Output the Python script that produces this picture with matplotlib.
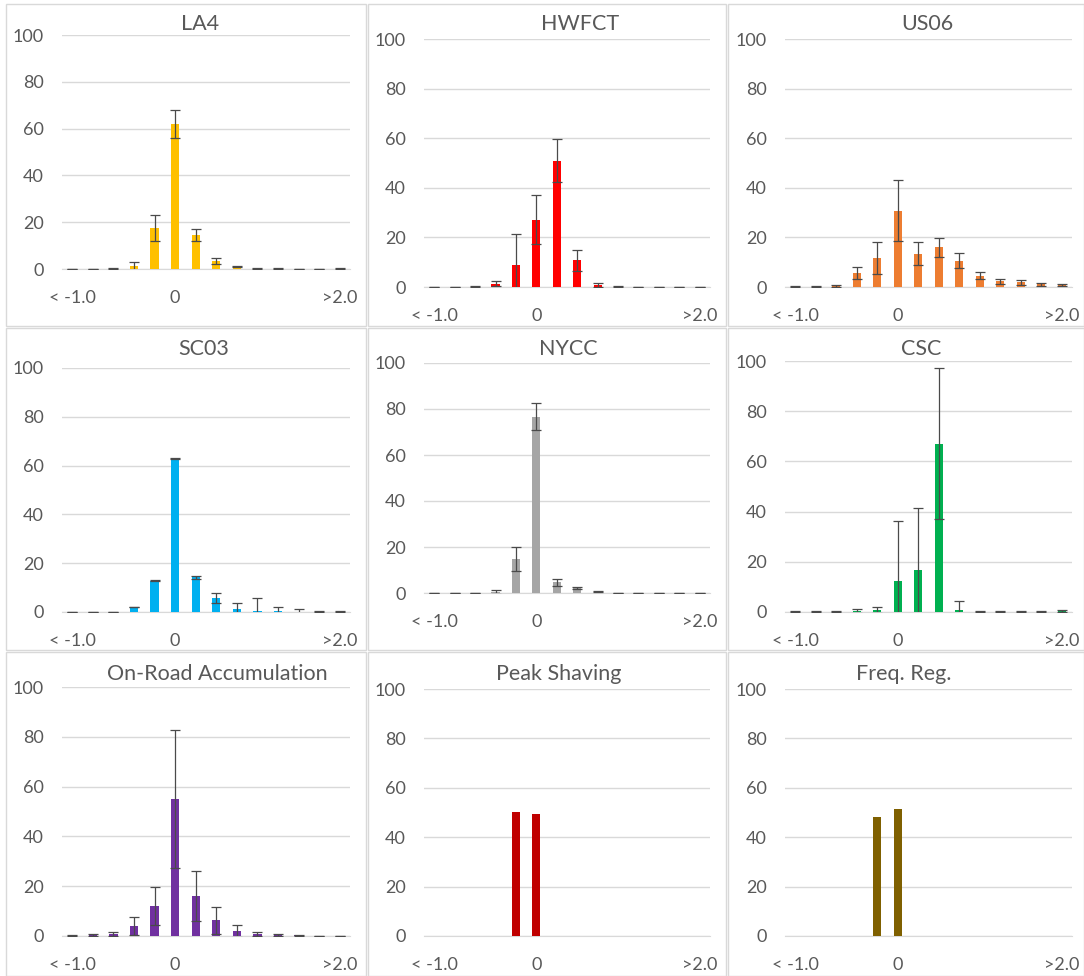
import numpy as np
import matplotlib.pyplot as plt
from matplotlib.patches import Rectangle

plt.rcParams['font.family'] = ['Lato', 'DejaVu Sans']

# categorias (14 classes), so 3 rotulos visiveis
cats = list(range(14))
tick_pos = [0, 5, 13]
tick_lab = ['< -1.0', '0', '>2.0']

# dados de entrada (%)
la4 = [0.1, 0.1, 0.2, 1.1, 17.5, 62.0, 14.5, 3.3, 1.0, 0.3, 0.2, 0.1, 0.1, 0.2]
la4_err = [0.1, 0.1, 0.1, 1.9, 5.5, 6.0, 2.4, 1.2, 0.3, 0.1, 0.1, 0.1, 0.1, 0.1]

hwfct = [0.1, 0.1, 0.3, 1.3, 8.7, 27.1, 51.0, 10.7, 0.9, 0.2, 0.1, 0.1, 0.1, 0.1]
hwfct_err = [0.1, 0.1, 0.1, 1.0, 12.8, 9.8, 8.5, 4.2, 0.9, 0.1, 0.1, 0.1, 0.1, 0.1]

us06 = [0.2, 0.3, 0.6, 5.5, 11.7, 30.8, 13.5, 16.0, 10.6, 4.6, 2.3, 1.9, 1.2, 0.9]
us06_err = [0.1, 0.2, 0.4, 2.4, 6.3, 12.3, 4.6, 3.9, 3.0, 1.3, 0.9, 0.9, 0.6, 0.4]

sc03 = [0.0, 0.0, 0.2, 1.9, 12.9, 63.0, 14.3, 5.8, 1.4, 0.4, 0.3, 0.1, 0.3, 0.2]
sc03_err = [0.0, 0.0, 0.0, 0.0, 0.3, 0.3, 0.6, 2.1, 2.4, 5.4, 1.8, 1.0, 0.3, 0.2]

nycc = [0.1, 0.1, 0.1, 0.5, 14.9, 76.7, 4.6, 2.2, 0.8, 0.1, 0.1, 0.1, 0.1, 0.1]
nycc_err = [0.1, 0.1, 0.1, 1.0, 5.2, 5.9, 1.6, 0.6, 0.2, 0.1, 0.1, 0.1, 0.1, 0.1]

csc = [0.1, 0.1, 0.1, 0.5, 0.8, 12.4, 16.6, 67.1, 0.8, 0.2, 0.2, 0.2, 0.2, 0.3]
csc_err = [0.1, 0.1, 0.1, 0.7, 1.2, 23.8, 25.0, 30.0, 3.7, 0.1, 0.1, 0.1, 0.1, 0.4]

onroad = [0.2, 0.4, 0.9, 4.0, 12.1, 55.0, 16.2, 6.3, 2.1, 0.8, 0.4, 0.3, 0.1, 0.1]
onroad_err = [0.1, 0.3, 0.8, 3.6, 7.5, 27.7, 10.0, 5.4, 2.4, 0.9, 0.4, 0.2, 0.1, 0.1]

peak = [0, 0, 0, 0, 50.1, 49.4, 0, 0, 0, 0, 0, 0, 0, 0]
freq = [0, 0, 0, 0, 48.3, 51.5, 0, 0, 0, 0, 0, 0, 0, 0]

# paineis: titulo, valores, erro, cor
panels = [
    ('LA4', la4, la4_err, '#FFC000'),
    ('HWFCT', hwfct, hwfct_err, '#FF0000'),
    ('US06', us06, us06_err, '#ED7D31'),
    ('SC03', sc03, sc03_err, '#00B0F0'),
    ('NYCC', nycc, nycc_err, '#A5A5A5'),
    ('CSC', csc, csc_err, '#00B050'),
    ('On-Road Accumulation', onroad, onroad_err, '#7030A0'),
    ('Peak Shaving', peak, None, '#C00000'),
    ('Freq. Reg.', freq, None, '#7F6000'),
]

# posicoes em pixels (x0, x1, y_topo, y_base) e titulo (x, baseline)
W, H = 1084, 976
areas = [(62, 350, 35, 269), (424, 710, 39, 287), (785, 1072, 39, 287),
         (62, 350, 368, 612), (424, 710, 363, 593), (785, 1072, 361, 612),
         (62, 350, 687, 936), (424, 710, 689, 936), (785, 1072, 689, 936)]
titles_xy = [(200, 30), (580, 30), (927, 30),
             (204, 355), (568, 355), (921, 355),
             (217, 680), (559, 680), (904, 680)]
frames = [(6, 366, 4, 326), (368, 726, 4, 326), (728, 1084, 4, 326),
          (6, 366, 328, 650), (368, 726, 328, 650), (728, 1084, 328, 650),
          (6, 366, 652, 976), (368, 726, 652, 976), (728, 1084, 652, 976)]

fig = plt.figure(figsize=(W / 100, H / 100), dpi=100)
fig.patch.set_facecolor('white')

txt = '#595959'
grid = '#D9D9D9'

for (fx0, fx1, fy0, fy1) in frames:
    fig.patches.append(Rectangle((fx0 / W, 1 - fy1 / H), (fx1 - fx0) / W, (fy1 - fy0) / H,
                                 transform=fig.transFigure, fill=False,
                                 edgecolor=grid, lw=1.0))

for (name, vals, err, col), (x0, x1, y0, y1), (tx, ty) in zip(panels, areas, titles_xy):
    ax = fig.add_axes([x0 / W, 1 - y1 / H, (x1 - x0) / W, (y1 - y0) / H])
    ax.bar(cats, vals, width=0.4, color=col, zorder=3)
    if err is not None:
        ax.errorbar(cats, vals, yerr=err, fmt='none', ecolor='#4a4a4a',
                    elinewidth=0.9, capsize=3.5, capthick=0.9, zorder=4)
    ax.set_xlim(-0.5, 13.5)
    ax.set_ylim(0, 100)
    ax.set_yticks([0, 20, 40, 60, 80, 100])
    ax.set_xticks(tick_pos)
    ax.set_xticklabels(tick_lab)
    ax.yaxis.grid(True, color=grid, lw=1.0, zorder=0)
    ax.set_axisbelow(True)
    for s in ['top', 'right', 'left']:
        ax.spines[s].set_visible(False)
    ax.spines['bottom'].set_color(grid)
    ax.tick_params(axis='both', length=0, labelsize=13, labelcolor=txt)
    ax.tick_params(axis='y', pad=13)
    ax.tick_params(axis='x', pad=15)
    ax.set_facecolor('none')
    fig.text(tx / W, 1 - ty / H, name, ha='center', va='baseline',
             fontsize=15.5, color=txt)

plt.savefig('out.png', dpi=100, facecolor='white')
